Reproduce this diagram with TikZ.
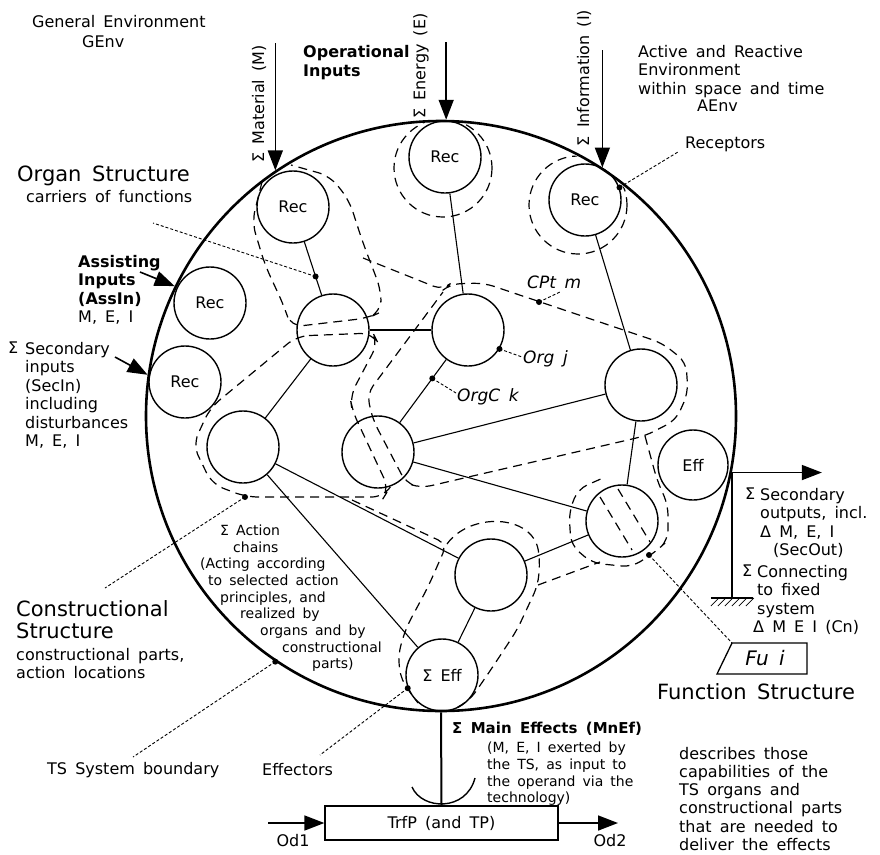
\documentclass[tikz,border=0pt]{standalone}
\usepackage{fontspec}
\setmainfont{DejaVu Sans}[WordSpace=1.6]
\usepackage{tikz}
\usetikzlibrary{arrows.meta}

\tikzstyle{organ} = [
    circle,
    draw,
    line width=1.4pt,
    minimum size=72pt,
    inner sep=0pt,
    font=\fontsize{16}{18}\selectfont
]
\tikzstyle{link} = [line width=1.1pt]
\tikzstyle{cpt} = [
    line width=1.2pt,
    dash pattern=on 9pt off 6pt,
    rounded corners=10pt
]
\tikzstyle{leader} = [line width=0.9pt, dash pattern=on 3pt off 2pt]
\tikzstyle{flow} = [
    -{Triangle[length=20pt,width=15pt]},
    line width=1.6pt
]
\tikzstyle{txt} = [
    inner sep=0pt,
    anchor=north west,
    align=left,
    font=\fontsize{16}{18.5}\selectfont
]
\tikzstyle{smalltxt} = [txt, font=\fontsize{14}{16.6}\selectfont]
\tikzstyle{bigtxt} = [txt, font=\fontsize{21}{22}\selectfont]
\tikzstyle{tag} = [txt, font=\fontsize{17}{19}\selectfont\itshape]

\begin{document}
\begin{tikzpicture}[x=1pt, y=-1pt]
    \useasboundingbox (0,0) rectangle (880,854);
    \fill[white] (0,0) rectangle (880,854);

    % System boundary
    \node[circle, draw, line width=2.6pt, minimum size=590pt, inner sep=0pt] (ts) at (441,416) {};

    % Receptors, organs, effectors
    \node[organ] (recM) at (293,207) {Rec};
    \node[organ] (recE) at (445,157) {Rec};
    \node[organ] (recI) at (585,200) {Rec};
    \node[organ] (recAss) at (210,303) {Rec};
    \node[organ] (recSec) at (185,382) {Rec};
    \node[organ] (orgA) at (333,330) {};
    \node[organ] (orgJ) at (468,330) {};
    \node[organ] (orgL) at (243,447) {};
    \node[organ] (orgK) at (378,452) {};
    \node[organ] (orgR) at (641,385) {};
    \node[organ] (orgS) at (622,521) {};
    \node[organ] (orgB) at (491,575) {};
    \node[organ, minimum size=70pt] (eff) at (693,465) {Eff};
    \node[organ] (effMain) at (442,675) {Σ Eff};

    % Action chains
    \draw[link] (recM) -- coordinate[pos=0.65] (dotA) (orgA);
    \draw[link] (recE) -- (orgJ);
    \draw[link] (recI) -- (orgR);
    \draw[link] (orgA) -- (orgJ);
    \draw[link] (orgA) -- (orgL);
    \draw[link] (orgJ) -- coordinate[pos=0.3] (dotK) (orgK);
    \draw[link] (orgK) -- (orgR);
    \draw[link] (orgK) -- (orgS);
    \draw[link] (orgR) -- (orgS);
    \draw[link] (orgL) -- (orgB);
    \draw[link] (orgL) -- (effMain);
    \draw[link] (orgB) -- (orgS);
    \draw[link] (orgB) -- (effMain);

    % Constructional parts
    \begin{scope}
        \clip (ts.center) circle [radius=293];
        \draw[cpt] (443,168) circle [radius=49];
        \draw[cpt] (578,205) circle [radius=49];
    \end{scope}
    \draw[cpt, rounded corners=12pt] (262,182) -- (252,222) -- (265,265) -- (284,306) -- (291,327) -- (368,318) -- (381,312) -- (381,290) -- (363,243) -- (349,200) -- (330,176) -- (291,165);
    \draw[cpt, rounded corners=12pt] (297,336) -- (373,333) -- (378,343) -- (350,396) -- (352,410) -- (389,489) -- (384,497) -- (246,497) -- (212,484) -- (193,445) -- (210,408) -- cycle;
    \draw[cpt] (363,258) -- (443,290) -- (450,284) -- (484,283) -- (662,343) -- (686,362) -- (688,393) -- (676,420) -- (645,436) -- (421,488) -- (406,483) -- (373,420) -- (367,394) -- (443,292);
    \draw[cpt] (645,436) -- (657,480) -- (668,505) -- (668,540) -- (658,550) -- (632,567) -- (592,563) -- (571,545) -- (569,512) -- (578,489) -- (603,478);
    \draw[cpt] (600,497) -- (632,550);
    \draw[cpt] (618,489) -- (650,542);
    \draw[cpt] (352,500) -- (447,544) -- (428,587) -- (406,628) -- (398,655) -- (401,680) -- (418,703);
    \draw[cpt] (447,544) .. controls (470,512) and (532,514) .. (540,560) -- (538,585) -- (517,630) -- (492,668) -- (470,700) -- (456,708);
    \draw[cpt] (538,585) -- (600,562);

    % Operational inputs
    \draw[flow] (ts.124.4 |- 0,43) -- (ts.124.4);
    \draw[flow] (ts.89.2 |- 0,42) -- (ts.89.2);
    \draw[flow] (ts.57.3 |- 0,50) -- (ts.57.3);
    \node[txt, anchor=center, rotate=90] (matlbl) at (259,104) {Σ Material (M)};
    \node[txt, anchor=center, rotate=90] (enlbl) at (421,66) {Σ Energy (E)};
    \node[txt, anchor=center, rotate=90] (inflbl) at (584,78) {Σ Information (I)};

    % Assisting and secondary inputs
    \coordinate (assin) at (140,272);
    \coordinate (secin) at (115,357);
    \draw[flow] (assin) -- (ts.154.5);
    \draw[flow] (secin) -- (ts.172);

    % Secondary outputs and fixed system
    \coordinate (secout) at (ts.-11.9);
    \draw[flow] (secout) -- ++(90,0);
    \draw[line width=1.6pt] (secout) -- (secout |- 0,598) coordinate (gnd);
    \draw[line width=1.6pt] ([xshift=-21pt]gnd) -- ([xshift=21pt]gnd);
    \foreach \i in {0,...,5}
        \draw[line width=0.8pt] ([xshift=-13pt+\i*7pt]gnd) -- ++(-8,8);

    % Main effects and transformation process
    \node[draw, line width=1.3pt, minimum width=233pt, minimum height=34pt, inner sep=0pt, font=\fontsize{16}{18}\selectfont] (trf) at (441.5,823) {TrfP (and TP)};
    \draw[line width=2pt] (ts.south) -- (trf.north);
    \draw[line width=1.4pt] (412,787) .. controls (422,810) and (466,812) .. (475,778);
    \coordinate (od1) at (268,823);
    \coordinate (od2) at (618,823);
    \draw[flow] (od1) -- (trf.west);
    \draw[flow] (trf.east) -- (od2);
    \node[font=\fontsize{16}{18}\selectfont, inner sep=0pt] (od1lbl) at (293,841) {Od1};
    \node[font=\fontsize{16}{18}\selectfont, inner sep=0pt] (od2lbl) at (610,841) {Od2};

    % Function structure
    \node[font=\fontsize{20}{22}\selectfont\itshape, inner sep=0pt] (fu) at (765,658) {Fu i};
    \coordinate (fucorner) at (732,643);
    \draw[line width=1.3pt] (fucorner) -- (807,643) -- (807,674) -- (717,674) -- cycle;

    % Leaders
    \coordinate (orgstrend) at (153,223);
    \coordinate (recend) at (678,152);
    \coordinate (cptdot) at (539,302);
    \coordinate (cptend) at (560,292);
    \coordinate (orgjend) at (522,357);
    \coordinate (orgkend) at (456,393);
    \coordinate (actdot) at (245,497);
    \coordinate (actend) at (105,588);
    \coordinate (tsend) at (133,757);
    \coordinate (effend) at (320,755);
    \coordinate (fudot) at (649,555);
    \draw[leader] (dotA) -- (orgstrend);
    \draw[leader] (recI.20) -- (recend);
    \draw[leader] (cptdot) -- (cptend);
    \draw[leader] (orgJ.-31) -- (orgjend);
    \draw[leader] (dotK) -- (orgkend);
    \draw[leader] (actdot) -- (actend);
    \draw[leader] (ts.236.6) -- (tsend);
    \draw[leader] (effMain.201) -- (effend);
    \draw[leader] (fudot) -- (fucorner);
    \foreach \d in {dotA, recI.20, cptdot, orgJ.-31, dotK, actdot, ts.236.6, effMain.201, fudot}
        \fill (\d) circle [radius=3];

    % Labels
    \node[txt] (genv) at (32,15) {General Environment};
    \node[txt] (genvtag) at (82,35) {GEnv};
    \node[txt, font=\fontsize{16}{19}\selectfont\bfseries] (opin) at (303,45) {Operational\\Inputs};
    \node[txt] (aenv) at (638,45) {Active and Reactive\\Environment\\within space and time};
    \node[txt] (aenvtag) at (697,100) {AEnv};
    \node[txt] (reclbl) at (685,137) {Receptors};
    \node[bigtxt] (organstr) at (17,166) {Organ Structure};
    \node[txt] (organsub) at (26,190) {carriers of functions};
    \node[txt] (assinlbl) at (78,255) {\textbf{Assisting}\\\textbf{Inputs}\\\textbf{(AssIn)}\\M, E, I};
    \node[txt] (secinsig) at (8,342) {Σ};
    \node[txt] (secinlbl) at (25,342) {Secondary\\inputs\\(SecIn)\\including\\disturbances\\M, E, I};
    \node[tag] (cptlbl) at (527,276) {CPt m};
    \node[tag] (orgjlbl) at (523,350) {Org j};
    \node[tag] (orgklbl) at (457,388) {OrgC k};
    \foreach \x/\y/\t [count=\i] in {220/525/{Σ Action}, 233/542/{chains}, 200/558/{(Acting according}, 208/575/{to selected action}, 220/592/{principles, and}, 240/608/{realized by}, 260/625/{organs and by}, 282/642/{constructional}, 312/658/{parts)}}
        \node[smalltxt] (act\i) at (\x,\y) {\t};
    \node[bigtxt] (constr) at (16,600) {Constructional\\Structure};
    \node[txt] (constrsub) at (16,648) {constructional parts,\\action locations};
    \node[txt] (tslbl) at (47,762) {TS System boundary};
    \node[txt] (efflbl) at (262,763) {Effectors};
    \node[txt, font=\fontsize{15}{18}\selectfont\bfseries] (mnef) at (452,722) {Σ Main Effects (MnEf)};
    \node[smalltxt] (mneftxt) at (487,742) {(M, E, I exerted by\\the TS, as input to\\the operand via the\\technology)};
    \node[txt] (secoutsig) at (745,488) {Σ};
    \node[txt] (secoutlbl) at (760,488) {Secondary\\outputs, incl.\\Δ M, E, I};
    \node[txt] (secouttag) at (773,543) {(SecOut)};
    \node[txt] (cnsig) at (742,565) {Σ};
    \node[txt] (cnlbl) at (757,565) {Connecting\\to fixed\\system};
    \node[txt] (cntag) at (753,620) {Δ M E I (Cn)};
    \node[bigtxt] (fustr) at (657,683) {Function Structure};
    \node[txt, font=\fontsize{16}{18.2}\selectfont] (fudesc) at (679,747) {describes those\\capabilities of the\\TS organs and\\constructional parts\\that are needed to\\deliver the effects};
\end{tikzpicture}
\end{document}
